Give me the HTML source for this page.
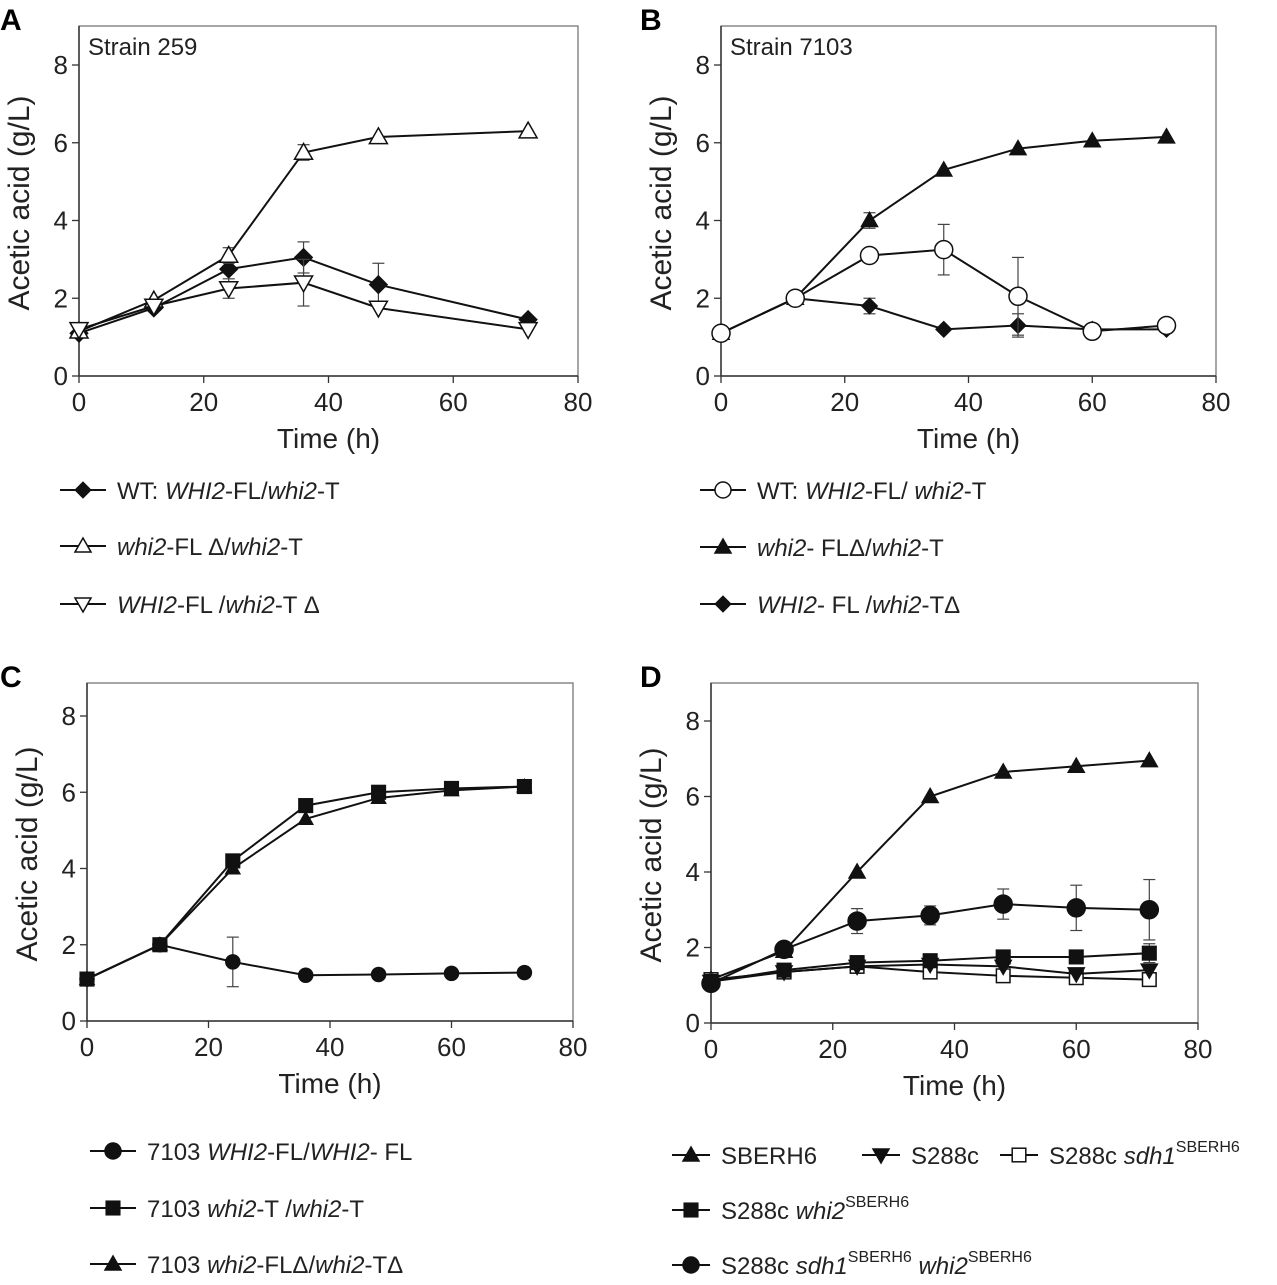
<!DOCTYPE html>
<html><head><meta charset="utf-8"><style>
body{margin:0;background:#fff}
svg{font-family:"Liberation Sans",Arial,sans-serif}
</style></head><body>
<svg id="fig" width="1277" height="1280" viewBox="0 0 1277 1280" xmlns="http://www.w3.org/2000/svg"></svg>
<script>
const times=[0,12,24,36,48,60,72];
const timesA=[0,12,24,36,48,72];
const xTicks=[0,20,40,60,80];
const yTicks=[0,2,4,6,8];
// Panel A
const aWT=[1.1,1.75,2.75,3.05,2.35,1.45];
const aWTErr=[0,0,0,0.4,0.55,0];
const aFLdel=[1.15,1.95,3.1,5.75,6.15,6.3];
const aFLdelErr=[0,0,0.2,0.2,0,0];
const aTdel=[1.2,1.8,2.25,2.4,1.75,1.2];
const aTdelErr=[0,0,0.25,0.6,0,0];
// Panel B
const bWT=[1.1,2.0,3.1,3.25,2.05,1.15,1.3];
const bWTErr=[0,0,0,0.65,1.0,0,0];
const bFLdel=[1.1,2.0,4.0,5.3,5.85,6.05,6.15];
const bFLdelErr=[0,0,0.2,0,0,0,0];
const bTdel=[1.1,2.0,1.8,1.2,1.3,1.2,1.2];
const bTdelErr=[0,0,0.2,0,0.3,0,0];
// Panel C
const cFL=[1.1,2.0,1.55,1.2,1.22,1.25,1.27];
const cFLErr=[0,0,0.65,0,0,0,0];
const cT=[1.1,2.0,4.2,5.65,6.0,6.1,6.15];
const cDel=[1.1,2.0,4.0,5.3,5.85,6.05,6.15];
// Panel D
const dSB=[1.15,1.9,4.0,6.0,6.65,6.8,6.95];
const dDouble=[1.05,1.95,2.7,2.85,3.15,3.05,3.0];
const dDoubleErr=[0,0,0.33,0.25,0.4,0.6,0.8];
const dWhi2=[1.1,1.4,1.6,1.65,1.75,1.75,1.85];
const dWhi2Err=[0,0.1,0.1,0.1,0.1,0.1,0.25];
const dS288=[1.1,1.35,1.5,1.55,1.5,1.3,1.4];
const dSdh1=[1.15,1.35,1.5,1.35,1.25,1.2,1.15];

const NS="http://www.w3.org/2000/svg";
const svg=document.getElementById('fig');
function el(tag,attrs,parent){const e=document.createElementNS(NS,tag);for(const k in attrs)e.setAttribute(k,attrs[k]);(parent||svg).appendChild(e);return e;}
function marker(g,type,x,y,s){
  s=s||9;let e;
  if(type==='diamond')e=el('polygon',{points:`${x},${y-s} ${x+s},${y} ${x},${y+s} ${x-s},${y}`,fill:'#111',stroke:'#111'},g);
  else if(type==='tri'||type==='otri')e=el('polygon',{points:`${x},${y-s} ${x+s},${y+s*0.75} ${x-s},${y+s*0.75}`,fill:type==='tri'?'#111':'#fff',stroke:'#111','stroke-width':1.5},g);
  else if(type==='dtri'||type==='odtri')e=el('polygon',{points:`${x},${y+s} ${x+s},${y-s*0.75} ${x-s},${y-s*0.75}`,fill:type==='dtri'?'#111':'#fff',stroke:'#111','stroke-width':1.5},g);
  else if(type==='circ'||type==='ocirc')e=el('circle',{cx:x,cy:y,r:s,fill:type==='circ'?'#111':'#fff',stroke:'#111','stroke-width':1.5},g);
  else if(type==='sq'||type==='osq')e=el('rect',{x:x-s*0.85,y:y-s*0.85,width:s*1.7,height:s*1.7,fill:type==='sq'?'#111':'#fff',stroke:'#111','stroke-width':1.5},g);
  
  
  return e;
}
function panel(p){
  const g=el('g',{});
  
  
  const xs=v=>p.l+(p.r-p.l)*v/80;
  const ys=v=>p.y0+(p.y8-p.y0)*v/8;
  const lab=el('text',{x:p.lx,y:p.ly,'font-size':30,'font-weight':'bold'},g);lab.textContent=p.id;
  
  const box=el('rect',{x:p.l,y:p.t,width:p.r-p.l,height:p.y0-p.t,fill:'none',stroke:'#777','stroke-width':1.3},g);
  
  el('line',{x1:p.l,y1:p.t,x2:p.l,y2:p.y0,stroke:'#333','stroke-width':1.5},g);
  el('line',{x1:p.l,y1:p.y0,x2:p.r,y2:p.y0,stroke:'#333','stroke-width':1.5},g);
  xTicks.forEach(v=>{el('line',{x1:xs(v),y1:p.y0,x2:xs(v),y2:p.y0+7,stroke:'#333','stroke-width':1.3},g);
    const t=el('text',{x:xs(v),y:p.y0+35,'font-size':26,'text-anchor':'middle',fill:'#222'},g);t.textContent=v;
    });
  yTicks.forEach(v=>{el('line',{x1:p.l-7,y1:ys(v),x2:p.l,y2:ys(v),stroke:'#333','stroke-width':1.3},g);
    const t=el('text',{x:p.l-11,y:ys(v)+9,'font-size':26,'text-anchor':'end',fill:'#222'},g);t.textContent=v;
    });
  const xt=el('text',{x:(p.l+p.r)/2,y:p.y0+72,'font-size':28,'text-anchor':'middle',fill:'#222'},g);xt.textContent='Time (h)';
  
  const cy=(p.t+p.y0)/2+2;
  const yt=el('text',{x:p.l-50,y:cy,'font-size':30,'text-anchor':'middle',fill:'#222',transform:`rotate(-90 ${p.l-50} ${cy})`},g);yt.textContent='Acetic acid (g/L)';
  
  if(p.title){const tt=el('text',{x:p.l+9,y:p.t+29,'font-size':24,fill:'#222'},g);tt.textContent=p.title;
    }
  p.series.forEach(s=>{
    const sg=el('g',{},g);
    
    const tx=s.t||times;
    if(s.err)s.vals.forEach((v,i)=>{const e=s.err[i];if(!e)return;const x=xs(tx[i]);
      el('line',{x1:x,y1:ys(v-e),x2:x,y2:ys(v+e),stroke:'#444','stroke-width':1.2},sg);
      el('line',{x1:x-6,y1:ys(v-e),x2:x+6,y2:ys(v-e),stroke:'#444','stroke-width':1.2},sg);
      el('line',{x1:x-6,y1:ys(v+e),x2:x+6,y2:ys(v+e),stroke:'#444','stroke-width':1.2},sg);});
    const line=el('polyline',{points:s.vals.map((v,i)=>xs(tx[i])+','+ys(v)).join(' '),fill:'none',stroke:'#111','stroke-width':2},sg);
    
    s.vals.forEach((v,i)=>marker(sg,s.m,xs(tx[i]),ys(v),s.size));
  });
}
panel({id:'A',lx:0,ly:30,l:79,r:578,t:26,y0:376,y8:65,title:'Strain 259',series:[
 {name:'wt',vals:aWT,err:aWTErr,m:'diamond',t:timesA},
 {name:'fl-del',vals:aFLdel,err:aFLdelErr,m:'otri',t:timesA},
 {name:'t-del',vals:aTdel,err:aTdelErr,m:'odtri',t:timesA}]});
panel({id:'B',lx:640,ly:30,l:721,r:1216,t:26,y0:376,y8:65,title:'Strain 7103',series:[
 {name:'fl-del',vals:bFLdel,err:bFLdelErr,m:'tri',size:8},
 {name:'t-del',vals:bTdel,err:bTdelErr,m:'diamond',size:8},
 {name:'wt',vals:bWT,err:bWTErr,m:'ocirc'}]});
panel({id:'C',lx:0,ly:687,l:87,r:573,t:683,y0:1021,y8:716,series:[
 {name:'fl-fl',vals:cFL,err:cFLErr,m:'circ',size:7},
 {name:'fl-del-t-del',vals:cDel,m:'tri',size:7},
 {name:'t-t',vals:cT,m:'sq',size:8}]});
panel({id:'D',lx:640,ly:687,l:711,r:1198,t:683,y0:1023,y8:721,series:[
 {name:'sberh6',vals:dSB,m:'tri',size:8},
 {name:'s288c-sdh1',vals:dSdh1,m:'osq',size:8},
 {name:'s288c',vals:dS288,m:'dtri',size:8},
 {name:'s288c-whi2',vals:dWhi2,err:dWhi2Err,m:'sq',size:8},
 {name:'s288c-sdh1-whi2',vals:dDouble,err:dDoubleErr,m:'circ'}]});

function legend(x,y,m,html,name,len){
  len=len||46;
  const g=el('g',{});
  
  el('line',{x1:x,y1:y,x2:x+len,y2:y,stroke:'#111','stroke-width':2},g);
  marker(g,m,x+len/2,y,8);
  const t=el('text',{x:x+len+11,y:y+9,'font-size':24,fill:'#222'},g);t.innerHTML=html;
}
legend(60,490,'diamond','WT: <tspan font-style="italic">WHI2</tspan>-FL/<tspan font-style="italic">whi2</tspan>-T','a-wt');
legend(60,546,'otri','<tspan font-style="italic">whi2</tspan>-FL Δ/<tspan font-style="italic">whi2</tspan>-T','a-fl-del');
legend(60,604,'odtri','<tspan font-style="italic">WHI2</tspan>-FL /<tspan font-style="italic">whi2</tspan>-T Δ','a-t-del');
legend(700,490,'ocirc','WT: <tspan font-style="italic">WHI2</tspan>-FL/ <tspan font-style="italic">whi2</tspan>-T','b-wt');
legend(700,547,'tri','<tspan font-style="italic">whi2</tspan>- FLΔ/<tspan font-style="italic">whi2</tspan>-T','b-fl-del');
legend(700,604,'diamond','<tspan font-style="italic">WHI2</tspan>- FL /<tspan font-style="italic">whi2</tspan>-TΔ','b-t-del');
legend(90,1151,'circ','7103  <tspan font-style="italic">WHI2</tspan>-FL/<tspan font-style="italic">WHI2</tspan>- FL','c-fl-fl');
legend(90,1208,'sq','7103 <tspan font-style="italic">whi2</tspan>-T /<tspan font-style="italic">whi2</tspan>-T','c-t-t');
legend(90,1264,'tri','7103 <tspan font-style="italic">whi2</tspan>-FLΔ/<tspan font-style="italic">whi2</tspan>-TΔ','c-del');
legend(672,1155,'tri','SBERH6','d-sberh6',38);
legend(862,1155,'dtri','S288c','d-s288c',38);
legend(1000,1155,'osq','S288c <tspan font-style="italic">sdh1</tspan><tspan font-size="16" dy="-12">SBERH6</tspan>','d-sdh1',38);
legend(672,1210,'sq','S288c  <tspan font-style="italic">whi2</tspan><tspan font-size="16" dy="-12">SBERH6</tspan>','d-whi2',38);
legend(672,1265,'circ','S288c  <tspan font-style="italic">sdh1</tspan><tspan font-size="16" dy="-12">SBERH6</tspan><tspan dy="12">  </tspan><tspan font-style="italic">whi2</tspan><tspan font-size="16" dy="-12">SBERH6</tspan>','d-double',38);
</script>
</body></html>
